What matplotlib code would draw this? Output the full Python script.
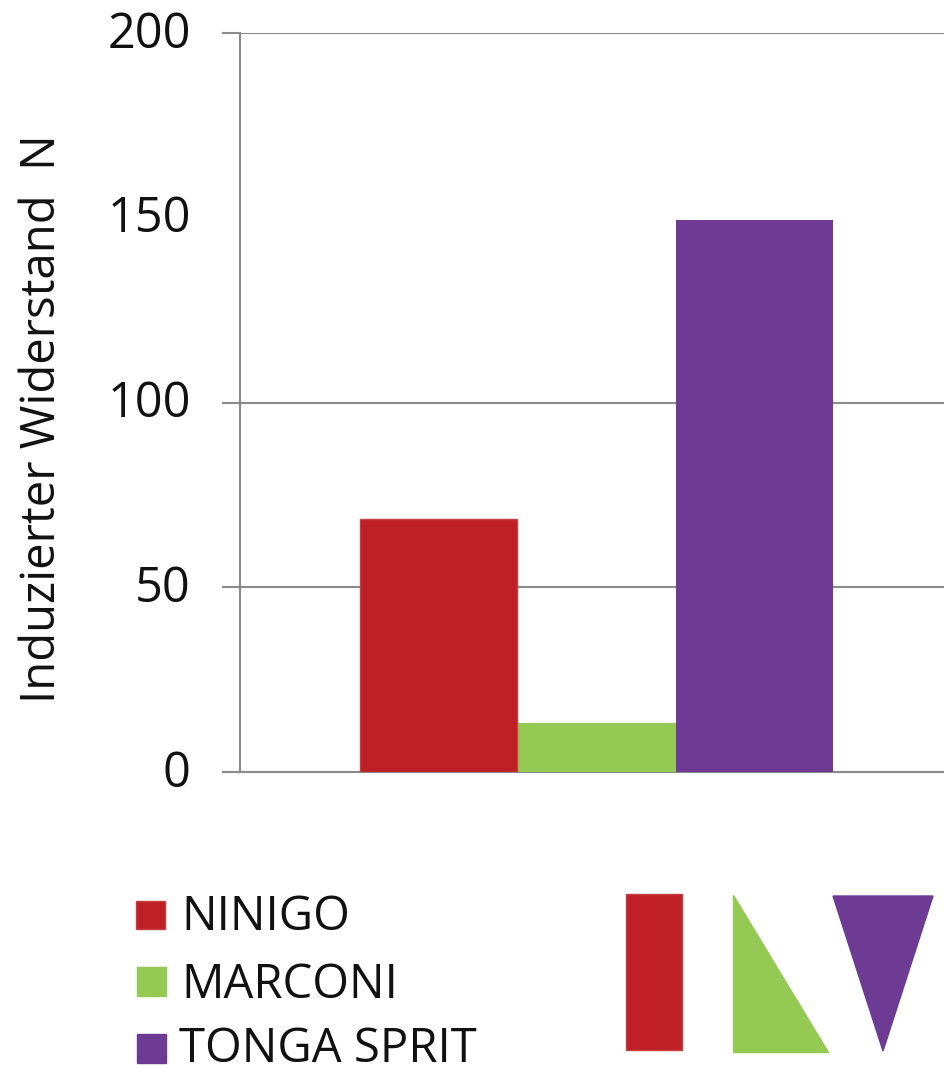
import matplotlib.pyplot as plt
from matplotlib.patches import Polygon, Rectangle
from matplotlib.transforms import ScaledTranslation

namen = ["NINIGO", "MARCONI", "TONGA SPRIT"]
werte = [68.6, 13.2, 149.4]
farben = ["#BE2025", "#94C954", "#6D3A94"]
rand_rot = "#C53F43"
y_ticks = [0, 50, 100, 150, 200]
grau = "#8A8A8A"

plt.rcParams["font.family"] = ["Open Sans", "DejaVu Sans"]

B, H = 944, 1068
fig = plt.figure(figsize=(B / 100, H / 100), dpi=100)

# Achse in Pixeln des Originals
ax = fig.add_axes([240 / B, 1 - 772 / H, (B - 240) / B, (772 - 33) / H])
ax.set_xlim(0, 704)
ax.set_ylim(0, 200)

# Rot liegt mit hellem Rand ueber dem Gruen
ax.bar(356, werte[1], width=160, color=farben[1], zorder=3)
ax.bar(514, werte[2], width=157, color=farben[2], zorder=3)
ax.bar(198, werte[0], width=157, color=farben[0], edgecolor=rand_rot, linewidth=1, zorder=4)

ax.set_yticks(y_ticks)
ax.tick_params(axis="y", labelsize=35, length=13, color=grau, width=1.5, pad=22.5, labelcolor="#111111")
ax.set_xticks([])
ax.grid(axis="y", color=grau, linewidth=1.5, zorder=0)

# Zahlen sitzen im Original etwas ueber der Linie
hoch = ScaledTranslation(0, 4 / 100, fig.dpi_scale_trans)
for label in ax.get_yticklabels():
    label.set_transform(label.get_transform() + hoch)

# bei 150 fehlt im Original die Linie samt Strich
tick_150 = ax.yaxis.get_major_ticks()[3]
tick_150.gridline.set_visible(False)
tick_150.tick1line.set_visible(False)

for s in ["top", "right"]:
    ax.spines[s].set_visible(False)
for s in ["left", "bottom"]:
    ax.spines[s].set_color(grau)
    ax.spines[s].set_linewidth(1.5)

fig.text(42 / B, 1 - 418.5 / H, "Induzierter Widerstand  N", rotation=90, fontsize=34,
         ha="center", va="center", color="#111111")

# Legende und Formen in Pixelkoordinaten
ov = fig.add_axes([0, 0, 1, 1])
ov.set_xlim(0, B)
ov.set_ylim(H, 0)
ov.axis("off")
ov.patch.set_alpha(0)

ov.add_patch(Rectangle((136, 901), 29, 28, facecolor=farben[0], edgecolor=rand_rot, linewidth=1))
ov.add_patch(Rectangle((137, 967), 29, 29, color=farben[1]))
ov.add_patch(Rectangle((137, 1034), 29, 29, color=farben[2]))
for x, y, name in zip([181, 181, 179], [930, 997.5, 1062.5], namen):
    ov.text(x, y, name, fontsize=34, va="baseline", ha="left", color="#111111")

ov.add_patch(Rectangle((626, 894), 56, 156, facecolor=farben[0], edgecolor=rand_rot, linewidth=1))
ov.add_patch(Polygon([(733, 895), (733, 1052), (828, 1052)], color=farben[1]))
ov.add_patch(Polygon([(833, 896), (933, 896), (883, 1051)], color=farben[2]))

fig.savefig("out.png", dpi=100)
